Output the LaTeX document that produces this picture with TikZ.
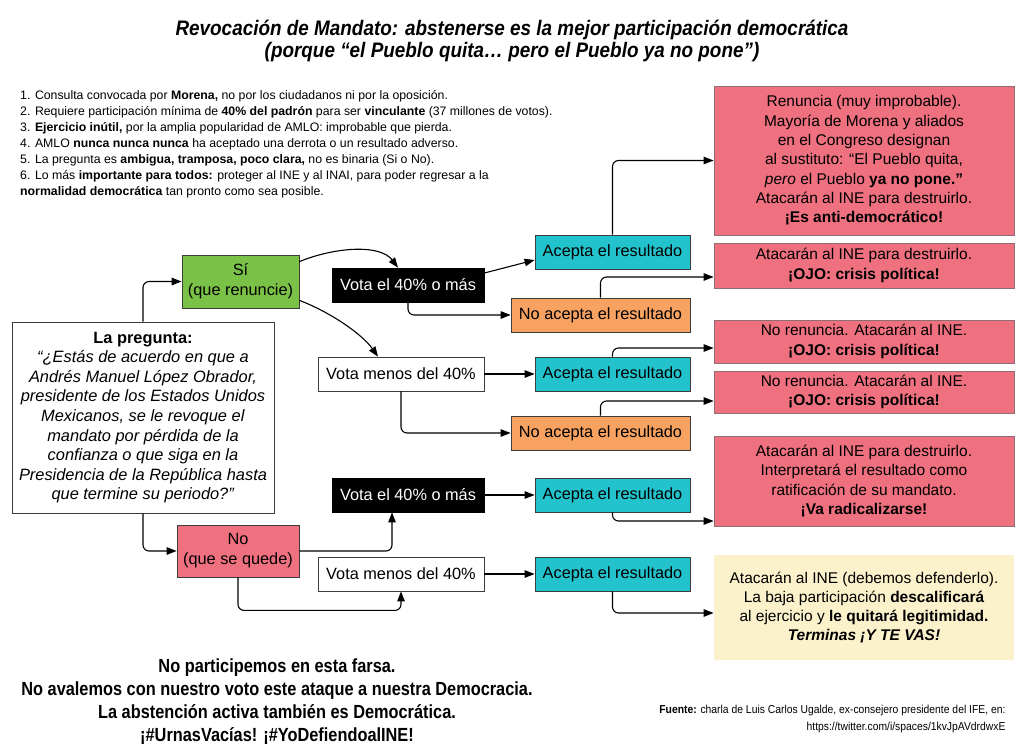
\documentclass[tikz,border=0pt]{standalone}
\usepackage{fontspec}
\setmainfont{Liberation Sans}
\newfontfamily\condfont[FakeStretch=0.86]{Liberation Sans}
\newfontfamily\titlefont[FakeStretch=0.9]{Liberation Sans}
\usetikzlibrary{arrows.meta,calc}
\definecolor{cgreen}{RGB}{122,193,72}
\definecolor{cpink}{RGB}{239,112,127}
\definecolor{ccyan}{RGB}{35,195,205}
\definecolor{corange}{RGB}{248,162,98}
\definecolor{cyellow}{RGB}{251,242,203}
\definecolor{cborder}{RGB}{60,60,60}
\definecolor{cpinkborder}{RGB}{140,110,115}
\begin{document}
\begin{tikzpicture}[x=1pt,y=-1pt,
  box/.style={draw=cborder, line width=0.8pt, inner sep=1pt, align=center,
    font=\fontsize{16.3}{20}\selectfont},
  sz/.style 2 args={minimum width=#1pt, minimum height=#2pt},
  blackbox/.style={box, fill=black, text=white, draw=black},
  whitebox/.style={box, fill=white},
  cyanbox/.style={box, fill=ccyan},
  orangebox/.style={box, fill=corange},
  greenbox/.style={box, fill=cgreen},
  pinkbox/.style={box, fill=cpink, draw=cpinkborder, font=\fontsize{15.5}{19.3}\selectfont},
  yellowbox/.style={box, fill=cyellow, draw=none, font=\fontsize{15.5}{19.3}\selectfont},
  arr/.style={-{Triangle[length=10pt,width=7.5pt]}, line width=1.1pt, rounded corners=6pt},
]
\useasboundingbox (0,0) rectangle (1024,747);
\fill[white] (0,0) rectangle (1024,747);

% Title
\node[align=center, font=\titlefont\bfseries\itshape\fontsize{21}{22}\selectfont] (title) at (512,41)
  {Revocación de Mandato: abstenerse es la mejor participación democrática\\
   (porque “el Pueblo quita… pero el Pueblo ya no pone”)};

% List
\node[anchor=north west, inner sep=0, align=left, font=\fontsize{12.3}{16}\selectfont] (list) at (20,90)
  {1. Consulta convocada por \textbf{Morena,} no por los ciudadanos ni por la oposición.\\
   2. Requiere participación mínima de \textbf{40\% del padrón} para ser \textbf{vinculante} (37 millones de votos).\\
   3. \textbf{Ejercicio inútil,} por la amplia popularidad de AMLO: improbable que pierda.\\
   4. AMLO \textbf{nunca nunca nunca} ha aceptado una derrota o un resultado adverso.\\
   5. La pregunta es \textbf{ambigua, tramposa, poco clara,} no es binaria (Si o No).\\
   6. Lo más \textbf{importante para todos:} proteger al INE y al INAI, para poder regresar a la\\
   \textbf{normalidad democrática} tan pronto como sea posible.};

% Left nodes
\node[greenbox, sz={117}{53}] (si) at (240.5,281.5) {Sí\\(que renuncie)};
\node[whitebox, sz={262}{191}, font=\fontsize{16.4}{19.6}\selectfont] (preg) at (143,417.5)
  {\textbf{La pregunta:}\\
   \textit{“¿Estás de acuerdo en que a}\\
   \textit{Andrés Manuel López Obrador,}\\
   \textit{presidente de los Estados Unidos}\\
   \textit{Mexicanos, se le revoque el}\\
   \textit{mandato por pérdida de la}\\
   \textit{confianza o que siga en la}\\
   \textit{Presidencia de la República hasta}\\
   \textit{que termine su periodo?”}};
\node[box, fill=cpink, sz={122}{52}] (no) at (238,551) {No\\(que se quede)};

% Middle nodes
\node[blackbox, sz={152}{34}] (v1) at (408,285) {Vota el 40\% o más};
\node[whitebox, sz={166}{34}] (m1) at (401,374) {Vota menos del 40\%};
\node[blackbox, sz={152}{34}] (v2) at (408,495) {Vota el 40\% o más};
\node[whitebox, sz={166}{34}] (m2) at (401,574) {Vota menos del 40\%};

\node[cyanbox, sz={155}{34}] (a1) at (612.5,252) {Acepta el resultado};
\node[orangebox, sz={179}{34}] (n1) at (600.5,315) {No acepta el resultado};
\node[cyanbox, sz={155}{34}] (a2) at (612.5,374) {Acepta el resultado};
\node[orangebox, sz={179}{34}] (n2) at (600.5,433) {No acepta el resultado};
\node[cyanbox, sz={155}{34}] (a3) at (612.5,495) {Acepta el resultado};
\node[cyanbox, sz={155}{34}] (a4) at (612.5,574) {Acepta el resultado};

% Right nodes
\node[pinkbox, sz={300}{149}] (r1) at (864,160.5)
  {Renuncia (muy improbable).\\
   Mayoría de Morena y aliados\\
   en el Congreso designan\\
   al sustituto: “El Pueblo quita,\\
   \textit{pero} el Pueblo \textbf{ya no pone.”}\\
   Atacarán al INE para destruirlo.\\
   \textbf{¡Es anti-democrático!}};
\node[pinkbox, sz={300}{45}] (r2) at (864,265.5)
  {Atacarán al INE para destruirlo.\\ \textbf{¡OJO: crisis política!}};
\node[pinkbox, sz={300}{43}] (r3) at (864,341.5)
  {No renuncia. Atacarán al INE.\\ \textbf{¡OJO: crisis política!}};
\node[pinkbox, sz={300}{42}] (r4) at (864,392)
  {No renuncia. Atacarán al INE.\\ \textbf{¡OJO: crisis política!}};
\node[pinkbox, sz={300}{90}] (r5) at (864,481)
  {Atacarán al INE para destruirlo.\\
   Interpretará el resultado como\\
   ratificación de su mandato.\\
   \textbf{¡Va radicalizarse!}};
\node[yellowbox, sz={300}{105}] (y1) at (864,607.5)
  {Atacarán al INE (debemos defenderlo).\\
   La baja participación \textbf{descalificará}\\
   al ejercicio y \textbf{le quitará legitimidad.}\\
   \textbf{\textit{Terminas ¡Y TE VAS!}}};

% Bottom texts
\node[align=center, font=\condfont\bfseries\fontsize{19}{23}\selectfont] (bottom) at (277,702)
  {No participemos en esta farsa.\\
   No avalemos con nuestro voto este ataque a nuestra Democracia.\\
   La abstención activa también es Democrática.\\
   ¡\#UrnasVacías! ¡\#YoDefiendoalINE!};
\node[anchor=east, align=right, font=\titlefont\fontsize{11.5}{17}\selectfont] (src) at (1009,719)
  {\textbf{Fuente:} charla de Luis Carlos Ugalde, ex-consejero presidente del IFE, en:\\
   https://twitter.com/i/spaces/1kvJpAVdrdwxE};

% Connectors
\draw[arr] (preg.north) |- (si.west);
\draw[arr] (preg.south) |- (no.west);
\draw[arr] ($(si.north east)+(0,7)$) .. controls (335,247) and (380,244) .. ($(v1.north)+(-10,0)$);
\draw[arr] ($(si.south east)+(0,-8)$) .. controls (330,312) and (362,334) .. ($(m1.north)+(-23,0)$);
\draw[arr] ($(v1.east)+(0,-12)$) -- ($(a1.west)+(0,8)$);
\draw[arr] (v1.south) |- (n1.west);
\draw[arr] (m1.east) -- (a2.west);
\draw[arr] (m1.south) |- (n2.west);
\draw[arr] (v2.east) -- (a3.west);
\draw[arr] (m2.east) -- (a4.west);
\draw[arr] (no.east) -| ($(v2.south)+(-16,0)$);
\draw[arr] (no.south) |- ($(m2.south)+(0,19)$) -- (m2.south);
\draw[arr] (a1.north) |- (r1.west);
\draw[arr] (n1.north) |- ($(r2.west)+(0,11.5)$);
\draw[arr] (a2.north) |- ($(r3.west)+(0,6.5)$);
\draw[arr] (n2.north) |- ($(r4.west)+(0,9)$);
\draw[arr] (a3.south) |- ($(r5.west)+(0,40)$);
\draw[arr] (a4.south) |- ($(y1.west)+(0,5.5)$);
\end{tikzpicture}
\end{document}
